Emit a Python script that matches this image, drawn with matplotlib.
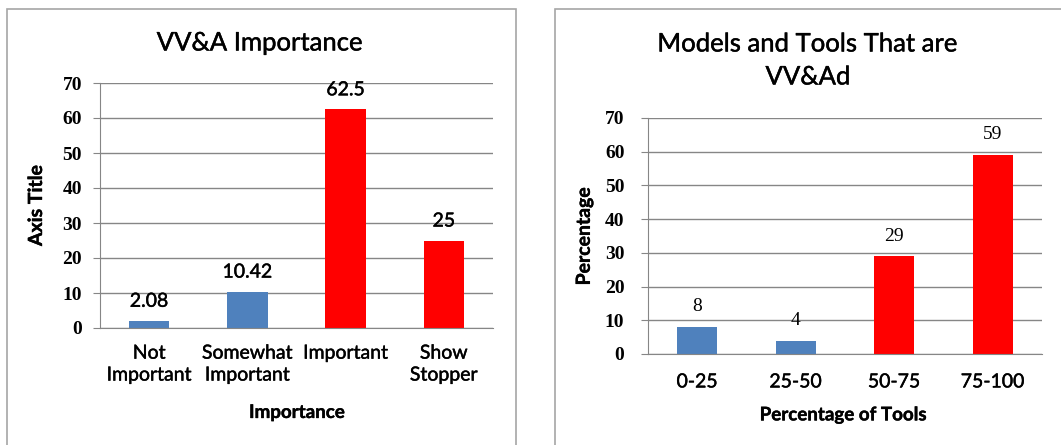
import matplotlib.pyplot as plt
import matplotlib.patheffects as pe
from matplotlib.patches import Rectangle

# Data
importance_labels = ['Not\nImportant', 'Somewhat\nImportant', 'Important', 'Show\nStopper']
importance_values = [2.08, 10.42, 62.5, 25]
importance_text = ['2.08', '10.42', '62.5', '25']

tool_ranges = ['0-25', '25-50', '50-75', '75-100']
tool_values = [8, 4, 29, 59]
tool_text = ['8', '4', '29', '59']

BLUE = '#4F81BD'
RED = '#FF0000'
GRID = '#868686'
SANS = 'Lato'
SERIF = 'Liberation Serif'
# thicken the thin sans strokes a little
HEAVY = [pe.withStroke(linewidth=0.3, foreground='black')]

bar_colors = [BLUE, BLUE, RED, RED]

fig = plt.figure(figsize=(10.61, 4.45), dpi=100)

# chart frames
for x0 in [7 / 1061, 555 / 1061]:
    fig.patches.append(Rectangle((x0, -0.1), 509 / 1061, 1.1 - 9 / 445,
                                 transform=fig.transFigure, fill=False,
                                 edgecolor='#A6A6A6', linewidth=1.2))


def style_axes(ax, ypad, xpad):
    ax.set_ylim(0, 70)
    ax.set_xlim(-0.5, 3.5)
    ax.set_yticks(range(0, 71, 10))
    ax.yaxis.grid(True, color=GRID, linewidth=1)
    ax.set_axisbelow(True)
    for side in ['top', 'right']:
        ax.spines[side].set_visible(False)
    ax.spines['left'].set_color(GRID)
    ax.spines['bottom'].set_color(GRID)
    ax.tick_params(axis='y', length=5, color=GRID, pad=ypad)
    ax.tick_params(axis='x', length=0, pad=xpad)
    for t in ax.get_yticklabels():
        t.set_fontfamily(SERIF)
        t.set_fontweight('bold')
        t.set_fontsize(14)


# Left chart: VV&A importance
ax1 = fig.add_axes([100 / 1061, 1 - 328 / 445, 393 / 1061, 245 / 445])
ax1.bar(range(4), importance_values, width=0.41, color=bar_colors)
ax1.set_xticks(range(4))
ax1.set_xticklabels(importance_labels, fontfamily=SANS, fontsize=14,
                    linespacing=1.35, path_effects=HEAVY)
style_axes(ax1, 8, 12)
for i, (v, s) in enumerate(zip(importance_values, importance_text)):
    ax1.annotate(s, (i, v), xytext=(0, 14), textcoords='offset points',
                 ha='center', va='center', fontfamily=SANS, fontsize=14,
                 path_effects=HEAVY)
ax1.set_ylabel('Axis Title', fontfamily=SANS, fontweight='bold', fontsize=14,
               path_effects=HEAVY)
ax1.yaxis.set_label_coords(-0.14, 0.5)
ax1.set_xlabel('Importance', fontfamily=SANS, fontweight='bold', fontsize=13.5,
               path_effects=HEAVY)
ax1.xaxis.set_label_coords(0.501, -0.31)
fig.text(260 / 1061, 1 - 43 / 445, 'VV&A Importance', ha='center', va='center',
         fontfamily=SANS, fontsize=18.5, path_effects=HEAVY)

# Right chart: models and tools that are VV&Ad
ax2 = fig.add_axes([648 / 1061, 1 - 354 / 445, 394 / 1061, 236 / 445])
ax2.bar(range(4), tool_values, width=0.41, color=bar_colors)
ax2.set_xticks(range(4))
ax2.set_xticklabels(tool_ranges, fontfamily=SANS, fontsize=14, path_effects=HEAVY)
style_axes(ax2, 12, 14)
for i, (v, s) in enumerate(zip(tool_values, tool_text)):
    ax2.annotate(s, (i, v), xytext=(0, 14.5), textcoords='offset points',
                 ha='center', va='center', fontfamily=SERIF, fontsize=14)
ax2.set_ylabel('Percentage', fontfamily=SANS, fontweight='bold', fontsize=14,
               path_effects=HEAVY)
ax2.yaxis.set_label_coords(-0.14, 0.5)
ax2.set_xlabel('Percentage of Tools', fontfamily=SANS, fontweight='bold',
               fontsize=13.5, path_effects=HEAVY)
ax2.xaxis.set_label_coords(0.495, -0.222)
fig.text(808 / 1061, 1 - 60.5 / 445, 'Models and Tools That are\nVV&Ad', ha='center',
         va='center', fontfamily=SANS, fontsize=18.5, linespacing=1.4,
         path_effects=HEAVY)

fig.savefig('out.png', dpi=100)
